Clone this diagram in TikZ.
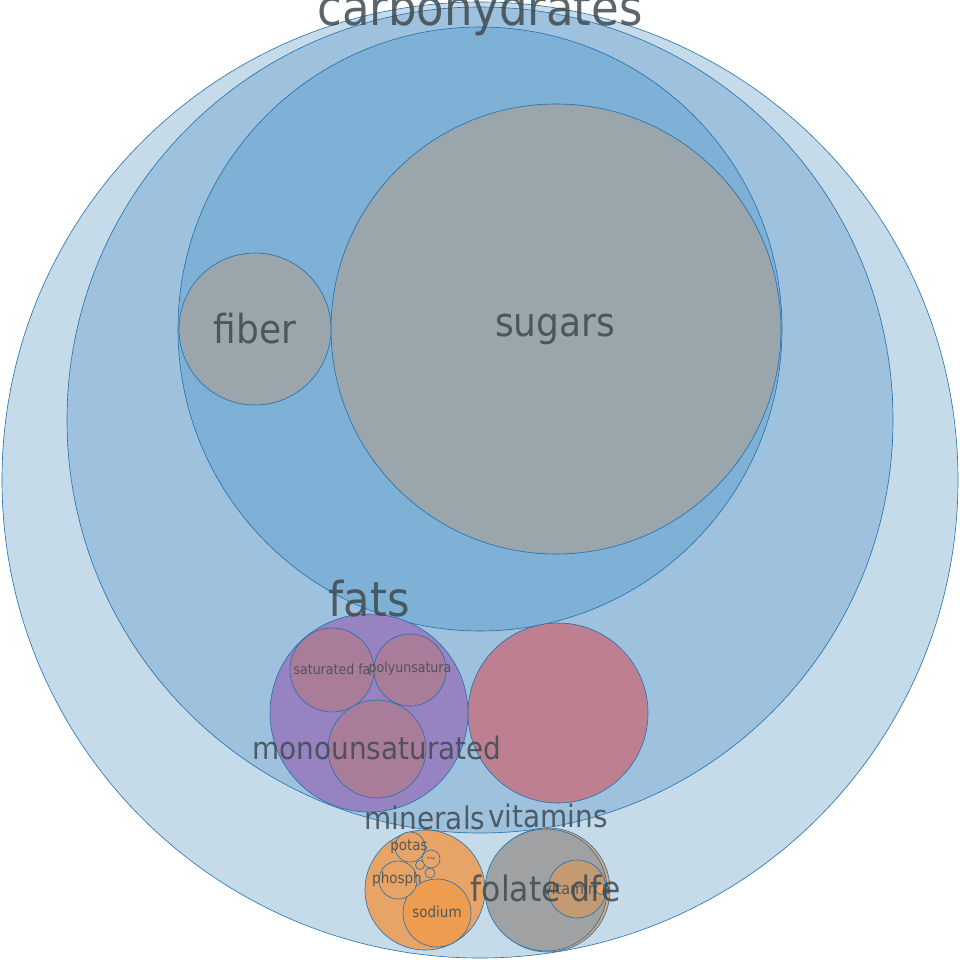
\documentclass[tikz,border=0pt]{standalone}
\usepackage{fontspec}
\setmainfont{DejaVu Sans Condensed}
\definecolor{edge}{HTML}{1F6FB0}
\definecolor{lvA}{HTML}{C6DBEA}
\definecolor{lvB}{HTML}{9EC2DD}
\definecolor{lvC}{HTML}{7FB0D5}
\definecolor{leaf}{HTML}{9AA6AB}
\definecolor{fatc}{HTML}{9883C2}
\definecolor{fatsub}{HTML}{A97D9A}
\definecolor{pinkc}{HTML}{BE8090}
\definecolor{minc}{HTML}{E8A466}
\definecolor{sodc}{HTML}{EE9C50}
\definecolor{vitc}{HTML}{9FA1A2}
\definecolor{vitin}{HTML}{C49A73}
\definecolor{txt}{HTML}{3F4A50}
\begin{document}
\begin{tikzpicture}[x=1pt,y=-1pt,bubble/.style={circle,draw=edge,line width=0.6pt,inner sep=0pt},
  lbl/.style={text=txt,text opacity=0.85,inner sep=0pt}]
\useasboundingbox (0,0) rectangle (960,960);
\node[bubble,fill=lvA,minimum size=956] (food) at (480,480) {};
\node[bubble,fill=lvB,minimum size=826] (nutr) at (480,420) {};
\node[bubble,fill=lvC,minimum size=604] (carbs) at (480,329) {};
\node[bubble,fill=leaf,minimum size=450] (sugars) at (556,329) {};
\node[bubble,fill=leaf,minimum size=152] (fiber) at (255,329) {};
\node[bubble,fill=fatc,minimum size=198] (fats) at (369,713) {};
\node[bubble,fill=fatsub,minimum size=84] (sat) at (332,670) {};
\node[bubble,fill=fatsub,minimum size=72] (poly) at (410,670) {};
\node[bubble,fill=fatsub,minimum size=98] (mono) at (377,749) {};
\node[bubble,fill=pinkc,minimum size=180] (protein) at (558,713) {};
\node[bubble,fill=minc,minimum size=120] (minerals) at (425,890) {};
\node[bubble,fill=sodc,minimum size=68] (sodium) at (437,913) {};
\node[bubble,fill=minc,minimum size=38] (phosph) at (398,880) {};
\node[bubble,fill=minc,minimum size=30] (potas) at (410,847) {};
\node[bubble,fill=minc,minimum size=18] (mag) at (431,859) {};
\node[bubble,fill=minc,minimum size=9] (zinc) at (420,865) {};
\node[bubble,fill=minc,minimum size=10] (calc) at (430,873) {};
\node[bubble,fill=minc,minimum size=124] (vitamins) at (548,890) {};
\node[bubble,fill=vitc,minimum size=122] (folate) at (546,890) {};
\node[bubble,fill=vitin,minimum size=58] (vit) at (577,889) {};
\node[bubble,fill=minc,minimum size=11] (vitb) at (601,889) {};
% labels
\node[lbl,font=\fontsize{50}{50}\selectfont] at (480,12) {carbohydrates};
\node[lbl,font=\fontsize{40}{40}\selectfont] at (555,329) {sugars};
\node[lbl,font=\fontsize{40}{40}\selectfont] at (255,329) {fiber};
\node[lbl,font=\fontsize{48}{48}\selectfont] at (369,599) {fats};
\node[lbl,font=\fontsize{14}{14}\selectfont] at (332,669) {saturated fa};
\node[lbl,font=\fontsize{14}{14}\selectfont] at (410,669) {polyunsatura};
\node[lbl,font=\fontsize{31}{31}\selectfont] at (377,748) {monounsaturated};
\node[lbl,font=\fontsize{31}{31}\selectfont] at (425,818) {minerals};
\node[lbl,font=\fontsize{31}{31}\selectfont] at (548,816) {vitamins};
\node[lbl,font=\fontsize{15}{15}\selectfont] at (437,912) {sodium};
\node[lbl,font=\fontsize{15}{15}\selectfont] at (397,879) {phosph};
\node[lbl,font=\fontsize{15}{15}\selectfont] at (409,847) {potas};
\node[lbl,font=\fontsize{4}{4}\selectfont] at (431,859) {mag};
\node[lbl,font=\fontsize{35}{35}\selectfont] at (546,888) {folate dfe};
\node[lbl,font=\fontsize{16}{16}\selectfont] at (577,889) {vitamin a};
\end{tikzpicture}
\end{document}
